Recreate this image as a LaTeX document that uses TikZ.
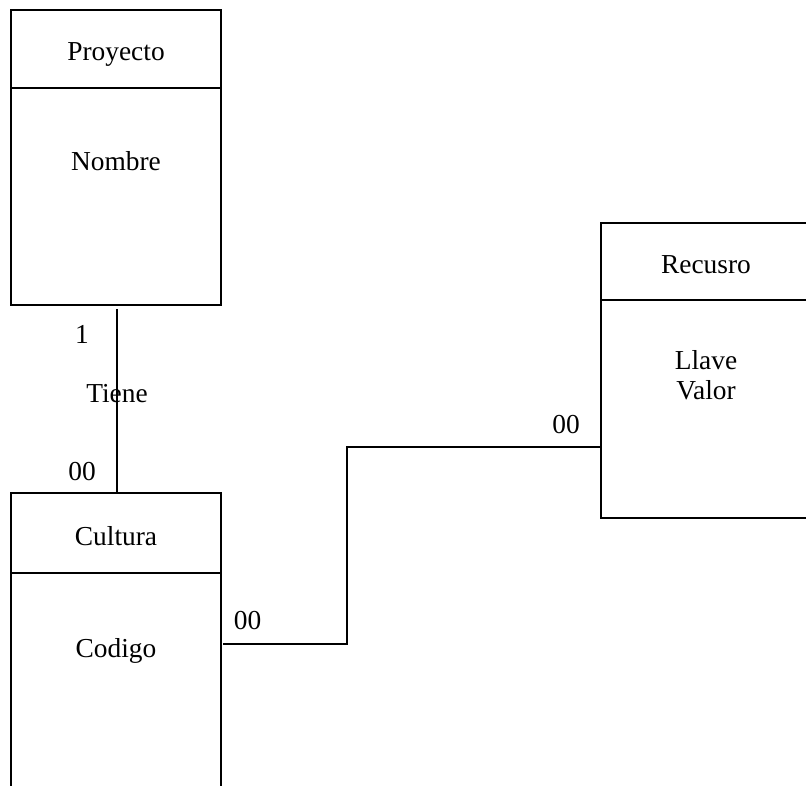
\documentclass[tikz,border=0pt]{standalone}
\usepackage{fontspec}
\setmainfont{Liberation Serif}
\usetikzlibrary{positioning}

\begin{document}
\begin{tikzpicture}[
    x=0.5pt, y=-0.5pt,
    every node/.style={
        font=\fontsize{13.7pt}{15pt}\selectfont
    },
    titulo/.style={
        draw, line width=1.2pt, inner sep=0, outer sep=0,
        minimum width=105pt, minimum height=39pt,
        text height=12pt, text depth=0pt
    },
    cuerpo/.style={
        titulo, minimum height=#1
    },
    attr/.style={
        inner sep=0
    },
    rel/.style={
        line width=0.8pt
    },
    etiqueta/.style={
        inner sep=0
    }
]
    \useasboundingbox (0,0) rectangle (806,785);
    \clip (0,0) rectangle (806,785);

    % entidades
    \node[titulo] (proyecto) at (116,49) {Proyecto};
    \node[cuerpo=108.5pt, below=0pt of proyecto] (proyectoCuerpo) {};
    \node[attr, below=41.5pt of proyecto.south, anchor=base] (nombre) {Nombre};

    \node[titulo, minimum height=40pt] (cultura) at (116,533) {Cultura};
    \node[cuerpo=150pt, below=0pt of cultura] (culturaCuerpo) {};
    \node[attr, below=42pt of cultura.south, anchor=base] (codigo) {Codigo};

    \node[titulo, minimum height=38.5pt] (recurso) at (706,261.5) {Recusro};
    \node[cuerpo=109pt, below=0pt of recurso] (recursoCuerpo) {};
    \node[attr, below=34.5pt of recurso.south, anchor=base] (llave) {Llave};
    \node[attr, below=15pt of llave.base, anchor=base] (valor) {Valor};

    % relaciones
    \draw[rel] ([xshift=0.5pt,yshift=-2pt]proyectoCuerpo.south) --
        node[etiqueta, pos=0.14, xshift=-17.5pt] (uno) {1}
        node[etiqueta, pos=0.46] (tiene) {Tiene}
        node[etiqueta, pos=0.885, xshift=-17.5pt] (muchosA) {00}
        ([xshift=0.5pt]cultura.north);

    \coordinate (codo) at (347,644);
    \draw[rel] ([xshift=1pt,yshift=-35.5pt]culturaCuerpo.north east) --
        node[etiqueta, pos=0, xshift=12.25pt, yshift=11.5pt] (muchosB) {00}
        (codo) |- ([yshift=-73.5pt]recursoCuerpo.north west)
        node[etiqueta, pos=1, xshift=-17.5pt, yshift=11pt] (muchosC) {00};
\end{tikzpicture}
\end{document}
